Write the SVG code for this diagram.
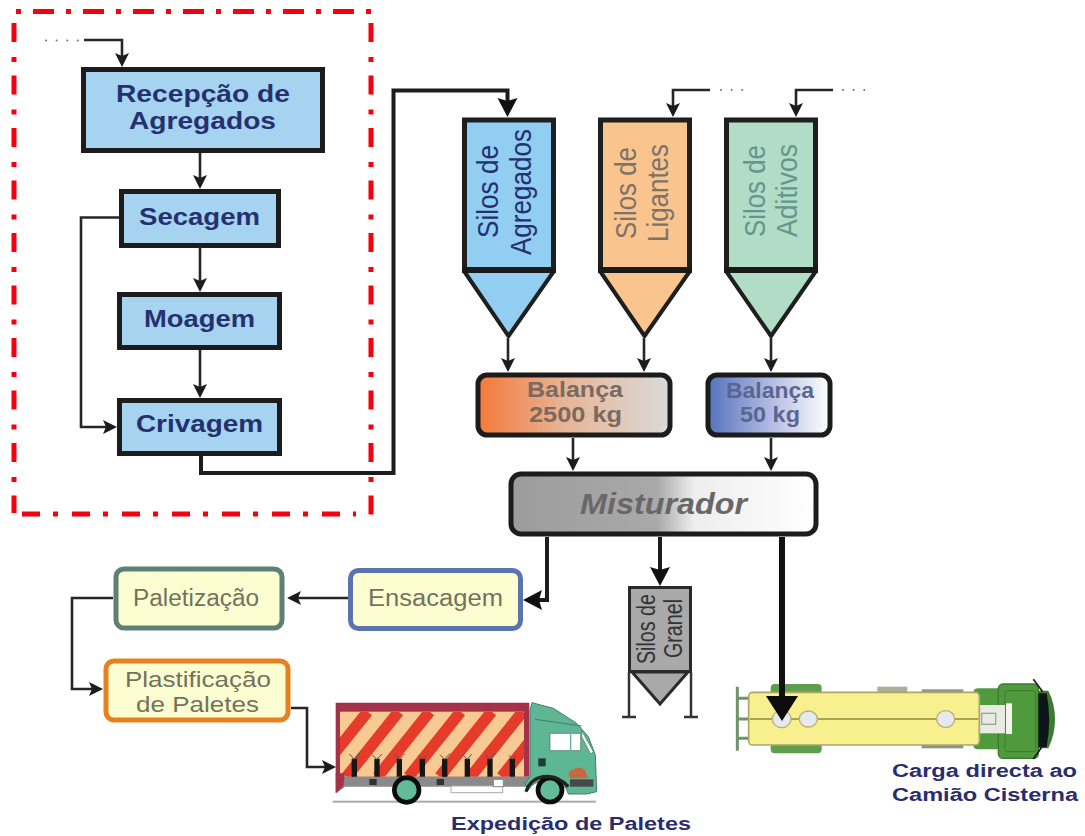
<svg xmlns="http://www.w3.org/2000/svg" width="1085" height="836" viewBox="0 0 1085 836">
<style>
text{font-family:"Liberation Sans",Arial,sans-serif}
.b{font-weight:bold}
.navy{fill:#25316f}
.gy{fill:#73735c}
.box{stroke:#1c1c1c;stroke-width:5}
.blue{fill:#a6d3f0}
.c{fill:none;stroke:#262626;stroke-width:2.6}
.d{fill:none;stroke:#1c1c1c;stroke-width:4}
.dots{fill:none;stroke:#777;stroke-width:2;stroke-linecap:round;stroke-dasharray:.1 10.5}
.red{fill:none;stroke:#f5000f;stroke-width:5}
.sil{stroke:#1f1f1f;stroke-width:5}
.tri{stroke:#1f1f1f;stroke-width:4;stroke-linejoin:round}
.bar{fill:#1a1a1a}
.cream{fill:#fdfdd2;stroke-width:5}
</style>
<defs>
<filter id="soft" x="-5%" y="-5%" width="110%" height="110%"><feGaussianBlur stdDeviation="1.6"/></filter>
<marker id="a" markerUnits="userSpaceOnUse" markerWidth="16" markerHeight="16" refX="9" refY="8" orient="auto" viewBox="0 0 16 16"><path d="M1,1 L15,8 L1,15 L4,8 z" fill="#1c1c1c"/></marker>
<marker id="b" markerUnits="userSpaceOnUse" markerWidth="22" markerHeight="22" refX="14" refY="11" orient="auto" viewBox="0 0 22 22"><path d="M1,1 L20,11 L1,21 L4,11 z" fill="#111"/></marker>
<marker id="e" markerUnits="userSpaceOnUse" markerWidth="34" markerHeight="34" refX="5" refY="17" orient="auto" viewBox="0 0 34 34"><path d="M1,1 L26,17 L1,33 z" fill="#0c0c0c"/></marker>
<linearGradient id="g1"><stop offset="0" stop-color="#f4793a"/><stop offset=".45" stop-color="#e7b596"/><stop offset="1" stop-color="#dadada"/></linearGradient>
<linearGradient id="g2"><stop offset="0" stop-color="#5673bd"/><stop offset=".5" stop-color="#b0b9e2"/><stop offset="1" stop-color="#fff"/></linearGradient>
<linearGradient id="g3"><stop offset="0" stop-color="#9c9c9c"/><stop offset=".48" stop-color="#a9a9a9"/><stop offset=".6" stop-color="#eee"/><stop offset="1" stop-color="#fff"/></linearGradient>
<clipPath id="cl"><rect x="60" y="95" width="552" height="195"/></clipPath>
</defs>
<rect width="1085" height="836" fill="#fff"/>

<g id="boundary">
<line class="red" x1="16" y1="11.5" x2="371" y2="11.5" stroke-dasharray="5 12 21 12"/>
<line class="red" x1="14" y1="23" x2="14" y2="513" stroke-dasharray="19 15 5 13.5"/>
<line class="red" x1="371" y1="23" x2="371" y2="516" stroke-dasharray="19 15 5 13.5"/>
<line class="red" x1="22" y1="514" x2="356" y2="514" stroke-dasharray="18 13 5 14"/>
</g>

<g id="recepcao"><rect class="box blue" x="83.5" y="69.5" width="239" height="81"/>
<text class="b navy" x="116" y="102" font-size="24" textLength="174" lengthAdjust="spacingAndGlyphs">Recepção de</text>
<text class="b navy" x="129" y="129" font-size="24" textLength="147" lengthAdjust="spacingAndGlyphs">Agregados</text></g>
<g id="secagem"><rect class="box blue" x="121.5" y="191.5" width="157" height="54"/>
<text class="b navy" x="139" y="225" font-size="23" textLength="121" lengthAdjust="spacingAndGlyphs">Secagem</text></g>
<g id="moagem"><rect class="box blue" x="119.5" y="294.5" width="160" height="53"/>
<text class="b navy" x="144" y="327" font-size="23" textLength="111" lengthAdjust="spacingAndGlyphs">Moagem</text></g>
<g id="crivagem"><rect class="box blue" x="119.5" y="400.5" width="160" height="53"/>
<text class="b navy" x="136" y="432" font-size="23" textLength="127" lengthAdjust="spacingAndGlyphs">Crivagem</text></g>

<g id="silo-agregados"><rect class="sil" fill="#92cdf2" x="464.500" y="120" width="89" height="150"/><path class="tri" fill="#92cdf2" d="M464,271 L554,271 L508.500,336 z"/><rect class="bar" x="462" y="267" width="94" height="6"/>
<text class="navy" transform="translate(498,238) rotate(-90)" font-size="30" textLength="93" lengthAdjust="spacingAndGlyphs">Silos de</text>
<text class="navy" transform="translate(531,255) rotate(-90)" font-size="30" textLength="126" lengthAdjust="spacingAndGlyphs">Agregados</text></g>
<g id="silo-ligantes"><rect class="sil" fill="#f9c48e" x="600.500" y="120" width="89" height="150"/><path class="tri" fill="#f9c48e" d="M600,271 L690,271 L644.500,336 z"/><rect class="bar" x="598" y="267" width="94" height="6"/>
<text transform="translate(636,239) rotate(-90)" fill="#7e7365" font-size="29" textLength="92" lengthAdjust="spacingAndGlyphs">Silos de</text>
<text transform="translate(668,242) rotate(-90)" fill="#7e7365" font-size="29" textLength="98" lengthAdjust="spacingAndGlyphs">Ligantes</text></g>
<g id="silo-aditivos"><rect class="sil" fill="#b1dcc5" x="726.500" y="120" width="89" height="150"/><path class="tri" fill="#b1dcc5" d="M726,271 L816,271 L771,336 z"/><rect class="bar" x="724" y="267" width="94" height="6"/>
<text transform="translate(765,237) rotate(-90)" fill="#659590" font-size="29" textLength="92" lengthAdjust="spacingAndGlyphs">Silos de</text>
<text transform="translate(797,237) rotate(-90)" fill="#659590" font-size="29" textLength="93" lengthAdjust="spacingAndGlyphs">Aditivos</text></g>

<g id="balanca-2500"><rect class="box" fill="url(#g1)" x="478" y="375" width="192" height="60" rx="9"/>
<text class="b" x="527" y="397" fill="#7c6a60" font-size="22" textLength="96" lengthAdjust="spacingAndGlyphs">Balança</text>
<text class="b" x="529" y="422" fill="#7c6a60" font-size="22" textLength="93" lengthAdjust="spacingAndGlyphs">2500 kg</text></g>
<g id="balanca-50"><rect class="box" fill="url(#g2)" x="708" y="375" width="122" height="60" rx="9"/>
<text class="b" x="726" y="398" fill="#5b6690" font-size="22" textLength="88" lengthAdjust="spacingAndGlyphs">Balança</text>
<text class="b" x="740" y="422" fill="#5b6690" font-size="22" textLength="60" lengthAdjust="spacingAndGlyphs">50 kg</text></g>
<g id="misturador"><rect class="box" fill="url(#g3)" x="511" y="474" width="305" height="60" rx="10" stroke-width="6"/>
<text class="b" x="580" y="514" fill="#686868" font-size="30" font-style="italic" textLength="167" lengthAdjust="spacingAndGlyphs">Misturador</text></g>

<g id="silo-granel"><rect fill="#a9a9a9" stroke="#2a2a2a" stroke-width="3" x="629.500" y="587.500" width="61" height="84"/>
<path fill="#a9a9a9" stroke="#2a2a2a" stroke-width="3" d="M632,672 L688,672 L660,704 z"/>
<path fill="none" stroke="#333" stroke-width="2.500" d="M629,672 V717 M691,672 V717 M622,717 H636 M684,717 H698"/>
<text transform="translate(655,664) rotate(-90)" fill="#333" font-size="25" textLength="70" lengthAdjust="spacingAndGlyphs">Silos de</text>
<text transform="translate(682,658) rotate(-90)" fill="#333" font-size="25" textLength="59" lengthAdjust="spacingAndGlyphs">Granel</text></g>

<g id="ensacagem"><rect class="cream" stroke="#5d73ad" x="350.500" y="570.500" width="170" height="58" rx="8"/>
<text class="gy" x="368" y="606" font-size="23" textLength="135" lengthAdjust="spacingAndGlyphs">Ensacagem</text></g>
<g id="paletizacao"><rect class="cream" stroke="#5f8077" stroke-width="6" x="116" y="569" width="166" height="59" rx="8"/>
<text class="gy" x="133" y="606" font-size="23" textLength="126" lengthAdjust="spacingAndGlyphs">Paletização</text></g>
<g id="plastificacao"><rect class="cream" stroke="#e7811f" stroke-width="6" x="106" y="661" width="182" height="59" rx="8"/>
<text class="gy" x="125" y="687" font-size="22" textLength="146" lengthAdjust="spacingAndGlyphs">Plastificação</text>
<text class="gy" x="136" y="712" font-size="22" textLength="123" lengthAdjust="spacingAndGlyphs">de Paletes</text></g>

<g id="camiao-paletes">
<g transform="translate(320,680) scale(.33333)" filter="url(#soft)">
<rect x="38" y="362" width="790" height="6" fill="#aaa"/>
<path d="M47,68 H628 V290 H47 z" fill="#a5304a"/>
<rect x="60" y="95" width="552" height="195" fill="#f7c993"/>
<g clip-path="url(#cl)" stroke="#e63a2c" stroke-width="34" fill="none">
<path d="M143,95 L-13,290 M236,95 L80,290 M329,95 L173,290 M422,95 L266,290 M515,95 L359,290 M608,95 L452,290 M701,95 L545,290"/>
</g>
<path d="M47,290 H630 L620,320 H75 L50,338 L47,338 z" fill="#8a8a8a"/>
<path d="M47,280 H75 L70,318 L50,338 H47 z" fill="#a5304a"/>
<rect x="393" y="318" width="155" height="20" fill="#fff" stroke="#aaa" stroke-width="3"/>
<rect x="520" y="298" width="30" height="22" fill="#fff" stroke="#888" stroke-width="3"/>
<rect x="148" y="297" width="22" height="18" fill="#333"/>
<rect x="350" y="297" width="22" height="18" fill="#333"/>
<g fill="none" stroke="#151515" stroke-width="16">
<path d="M103,236 V290 M171,236 V290 M238,236 V290 M307,236 V290 M374,236 V290 M442,236 V290 M510,236 V290 M577,236 V290"/>
</g>
<g fill="none" stroke="#555" stroke-width="3">
<path d="M88,222 L103,238 L118,220 M156,224 L171,238 L186,222 M224,224 L238,238 L255,220 M296,226 L307,238 L320,224 M360,224 L374,238 L390,220 M428,224 L442,238 L455,222 M496,226 L510,238 L526,220 M566,226 L577,238 L588,226"/>
</g>
<path d="M636,68 L700,85 L770,130 L805,170 L826,225 L830,335 L800,342 H745 C735,295 650,285 625,330 L615,310 L630,290 V90 z" fill="#5eb694" stroke="#3f7f68" stroke-width="3"/>
<path d="M645,118 L785,138" stroke="#3f7f68" stroke-width="3" fill="none"/>
<path d="M690,160 H782 V212 H690 z" fill="#fff" stroke="#3f6f5c" stroke-width="2"/>
<line x1="752" y1="160" x2="752" y2="212" stroke="#5eb694" stroke-width="4"/>
<path d="M785,152 L820,215 L812,222 L785,170 z" fill="#fff" stroke="#3f6f5c" stroke-width="2"/>
<rect x="655" y="235" width="22" height="24" fill="#1f3d33"/>
<path d="M745,280 C760,262 785,258 795,272 L805,295 H750 z" fill="#c9683f"/>
<rect x="750" y="298" width="70" height="22" fill="#4a4a4a"/>
<circle cx="260" cy="330" r="37" fill="#62bb9a" stroke="#111" stroke-width="14"/>
<circle cx="690" cy="330" r="36" fill="#62bb9a" stroke="#111" stroke-width="14"/>
<path d="M618,335 C635,285 700,270 745,320" fill="none" stroke="#222" stroke-width="10"/>
</g>
<text class="b" x="451" y="830" fill="#2b2d6c" font-size="18" textLength="240" lengthAdjust="spacingAndGlyphs">Expedição de Paletes</text>
</g>

<g id="camiao-cisterna">
<g transform="translate(720,660) scale(.33333)" filter="url(#soft)">
<path d="M52,80 V272 M52,115 H85 M52,177 H85 M52,235 H85" fill="none" stroke="#6f9266" stroke-width="9"/>
<rect x="152" y="72" width="153" height="40" rx="12" fill="#5f9d4f"/>
<rect x="152" y="240" width="153" height="40" rx="12" fill="#5f9d4f"/>
<rect x="472" y="80" width="90" height="30" fill="#abae98"/>
<rect x="605" y="88" width="125" height="20" fill="#8f9484"/>
<rect x="605" y="245" width="125" height="20" fill="#8f9484"/>
<path d="M760,100 Q760,85 775,85 H835 V268 H775 Q760,268 760,255 z" fill="#4f9a3c"/>
<rect x="835" y="72" width="120" height="223" rx="14" fill="#4f9a3c" stroke="#3d7a2e" stroke-width="4"/>
<rect x="855" y="92" width="92" height="183" rx="8" fill="#4f9a3c" stroke="#3d7a2e" stroke-width="3"/>
<rect x="780" y="135" width="75" height="85" fill="#e8ebe4"/>
<rect x="858" y="130" width="18" height="92" fill="#f4f6ee"/>
<rect x="785" y="160" width="42" height="33" fill="none" stroke="#9fa48e" stroke-width="4"/>
<path d="M955,92 H985 Q1005,130 1005,178 Q1005,225 985,265 H955 z" fill="#3c7a30"/>
<path d="M955,100 H980 Q995,178 980,262 H955 z" fill="#101816"/>
<path d="M940,58 L968,95 M940,297 L965,262" fill="none" stroke="#1a1a1a" stroke-width="5"/>
<rect x="86" y="97" width="692" height="158" rx="12" fill="#f8ef8e" stroke="#a9a868" stroke-width="5"/>
<line x1="90" y1="177" x2="775" y2="177" stroke="#8c8b3e" stroke-width="4"/>
<ellipse cx="185" cy="177" rx="28" ry="26" fill="#e6e9f0" stroke="#b8b26a" stroke-width="4"/>
<ellipse cx="265" cy="177" rx="27" ry="24" fill="#e6e9f0" stroke="#b8b26a" stroke-width="4"/>
<ellipse cx="677" cy="177" rx="27" ry="25" fill="#e6e9f0" stroke="#b8b26a" stroke-width="4"/>
</g>
<text class="b" x="892" y="777" fill="#2b2d6c" font-size="18" textLength="185" lengthAdjust="spacingAndGlyphs">Carga directa ao</text>
<text class="b" x="892" y="801" fill="#2b2d6c" font-size="18" textLength="186" lengthAdjust="spacingAndGlyphs">Camião Cisterna</text>
</g>

<g id="connectors">
<path class="dots" d="M46,40.500 H80"/>
<path class="dots" d="M721,90 H746"/>
<path class="dots" d="M843,90 H868"/>
<path class="c" d="M84,40 H122 V61" marker-end="url(#a)"/>
<path class="c" d="M710,90 H673 V111" marker-end="url(#a)"/>
<path class="c" d="M833,90 H796 V111" marker-end="url(#a)"/>
<path class="c" d="M200,153 V183" marker-end="url(#a)"/>
<path class="c" d="M200,247 V286" marker-end="url(#a)"/>
<path class="c" d="M200,350 V392" marker-end="url(#a)"/>
<path class="c" d="M119,217.500 H81 V427 H111" marker-end="url(#a)"/>
<path class="d" d="M201,456 V473 H393.500 V90.500 H507.500 V111" stroke-width="3.500" marker-end="url(#b)"/>
<path class="c" d="M508,338 V366" marker-end="url(#a)"/>
<path class="c" d="M644,338 V366" marker-end="url(#a)"/>
<path class="c" d="M771,338 V366" marker-end="url(#a)"/>
<path class="c" d="M573,438 V465" marker-end="url(#a)"/>
<path class="c" d="M771,438 V465" marker-end="url(#a)"/>
<path class="d" d="M547,537 V600 H529" marker-end="url(#b)"/>
<path class="d" d="M660,537 V580" stroke-width="5" marker-end="url(#b)"/>
<path d="M782,537 V700" fill="none" stroke="#111" stroke-width="6" marker-end="url(#e)"/>
<path class="c" d="M348,598 H293" marker-end="url(#a)"/>
<path class="c" d="M113,598 H72 V689 H97" marker-end="url(#a)"/>
<path class="c" d="M291,708 H307 V767 H330" marker-end="url(#a)"/>
</g>
</svg>
